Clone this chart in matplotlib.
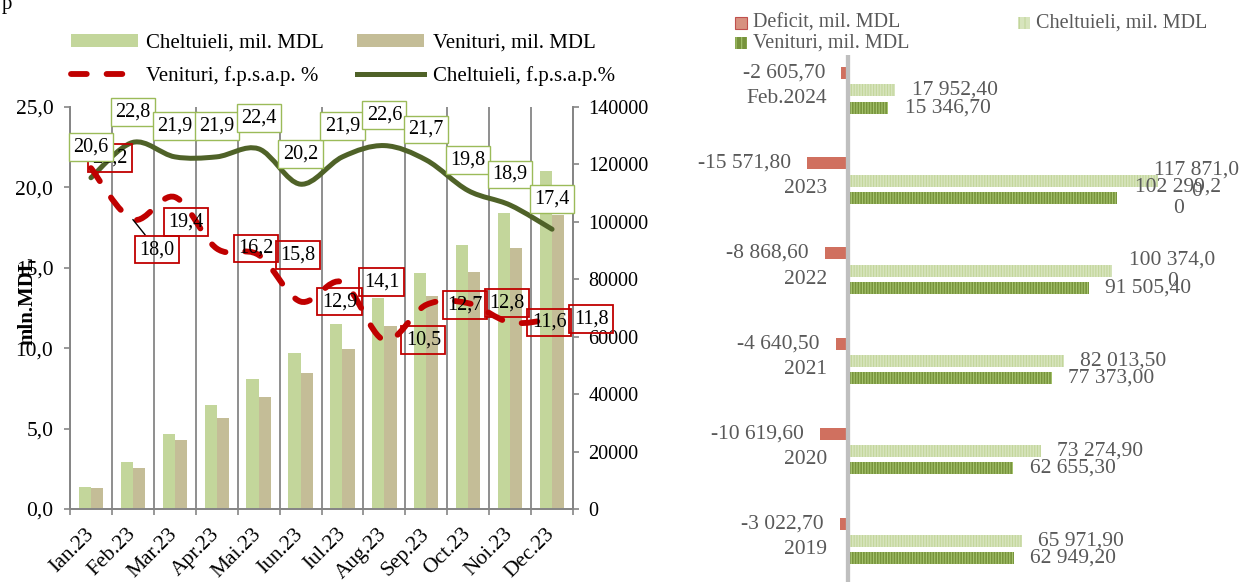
import numpy as np
import matplotlib
matplotlib.use('Agg')
import matplotlib.pyplot as plt
from matplotlib.path import Path
from matplotlib.patches import PathPatch, Rectangle, Patch
from matplotlib.lines import Line2D

# left chart: monthly 2023
months = ['Ian.23', 'Feb.23', 'Mar.23', 'Apr.23', 'Mai.23', 'Iun.23',
          'Iul.23', 'Aug.23', 'Sep.23', 'Oct.23', 'Noi.23', 'Dec.23']
chelt_mil = [7560, 16370, 26120, 36120, 45280, 54340, 64440, 73600, 82200, 91950, 103200, 117871]
venit_mil = [7420, 14180, 24030, 31590, 39010, 47260, 55730, 63850, 74080, 82650, 90800, 102299]
chelt_pct = [20.6, 22.8, 21.9, 21.9, 22.4, 20.2, 21.9, 22.6, 21.7, 19.8, 18.9, 17.4]
venit_pct = [21.2, 18.0, 19.4, 16.2, 15.8, 12.9, 14.1, 10.5, 12.7, 12.8, 11.6, 11.8]

# right chart: yearly
years = ['Feb.2024', '2023', '2022', '2021', '2020', '2019']
deficit = [-2605.70, -15571.80, -8868.60, -4640.50, -10619.60, -3022.70]
cheltuieli = [17952.40, 117871.00, 100374.00, 82013.50, 73274.90, 65971.90]
venituri = [15346.70, 102299.20, 91505.40, 77373.00, 62655.30, 62949.20]

W, H = 1243, 582
GRAY = '#868686'
TXT2 = '#595959'
plt.rcParams['font.family'] = ['Liberation Serif', 'DejaVu Serif']
plt.rcParams['hatch.linewidth'] = 0.8


def fig_box(l, t, r, b):
    return [l / W, 1 - b / H, (r - l) / W, (b - t) / H]


def smooth_path(xs, ys):
    # cubic bezier through the points, like Excel's smoothed line
    pts = np.column_stack([xs, ys]).astype(float)
    n = len(pts)
    verts = [pts[0]]
    codes = [Path.MOVETO]
    for i in range(n - 1):
        p0 = pts[i - 1] if i > 0 else pts[i]
        p1, p2 = pts[i], pts[i + 1]
        p3 = pts[i + 2] if i + 2 < n else pts[i + 1]
        verts += [p1 + (p2 - p0) / 6, p2 - (p3 - p1) / 6, p2]
        codes += [Path.CURVE4] * 3
    return Path(verts, codes)


def fmt1(v):
    return f'{v:.1f}'.replace('.', ',')


def fmt2(v):
    s = f'{abs(v):,.2f}'.replace(',', ' ').replace('.', ',')
    s = ('-' if v < 0 else '') + s
    if v >= 100000:
        s = s[:-1] + '\n' + s[-1]
    return s


fig = plt.figure(figsize=(W / 100, H / 100), dpi=100)

# ---------------- left chart ----------------
ax = fig.add_axes(fig_box(70, 107, 573, 509))
ax2 = ax.twinx()
ax.set_zorder(ax2.get_zorder() + 1)
ax.patch.set_visible(False)

x = np.arange(len(months)) + 0.5
bw = 0.29
ax2.bar(x - bw / 2, chelt_mil, bw, color='#c3d69b', lw=0)
ax2.bar(x + bw / 2, venit_mil, bw, color='#c4bd97', lw=0)
ax2.set_ylim(0, 140000)
ax2.set_yticks(range(0, 140001, 20000))
ax2.set_yticklabels([str(v) for v in range(0, 140001, 20000)])
ax2.tick_params(axis='y', length=4, width=1.2, color=GRAY, pad=7, labelsize=14.5)

red_style = (0, (2.7, 3.4))
ax.add_patch(PathPatch(smooth_path(x, chelt_pct), fc='none', ec='#4f6228',
                       lw=3.6, capstyle='round', zorder=3))
ax.add_patch(PathPatch(smooth_path(x, venit_pct), fc='none', ec='#c00000',
                       lw=4.2, linestyle=red_style, capstyle='round', zorder=3))

for xi, v in zip(x, chelt_pct):
    ax.annotate(fmt1(v), (xi, v), xytext=(0, 22), textcoords='offset points',
                ha='center', va='center', fontsize=14.5, zorder=6,
                bbox=dict(boxstyle='square,pad=0.22', fc='white', ec='#9bbb59', lw=1))

red_off = [(19, -10), (24, 30), (11, 25)] + [(39, 0)] * 9
for i, (xi, v) in enumerate(zip(x, venit_pct)):
    dx, dy = red_off[i]
    arrow = None
    if i == 1:
        arrow = dict(arrowstyle='-', color='black', lw=1, shrinkA=0, shrinkB=0)
    ax.annotate(fmt1(v), (xi, v), xytext=(dx * 0.72, -dy * 0.72), textcoords='offset points',
                ha='center', va='center', fontsize=14.5, zorder=5, arrowprops=arrow,
                bbox=dict(boxstyle='square,pad=0.22', fc='none', ec='#c00000', lw=1.3))

ax.set_xlim(0, 12)
ax.set_ylim(0, 25)
ax.set_xticks(np.arange(13))
ax.set_xticklabels([])
ax.set_xticks(x, minor=True)
ax.set_xticklabels(months, minor=True, rotation=45, ha='right', va='center',
                   rotation_mode='anchor', fontsize=15.5)
ax.tick_params(axis='x', which='minor', length=0, pad=16)
ax.tick_params(axis='x', which='major', length=4, width=1.2, color=GRAY)
ax.grid(axis='x', which='major', color=GRAY, lw=1.3)
ax.set_yticks(np.arange(0, 26, 5))
ax.set_yticklabels([fmt1(v) for v in np.arange(0, 26, 5)])
ax.tick_params(axis='y', length=4, width=1.2, color=GRAY, pad=8, labelsize=15.5)
for a in (ax, ax2):
    a.spines['top'].set_visible(False)
    for s in ('left', 'right', 'bottom'):
        a.spines[s].set_color(GRAY)
        a.spines[s].set_linewidth(1.3)

fig.text(27 / W, 1 - 301 / H, 'mln.MDL', rotation=90, fontweight='bold',
         fontsize=15, ha='center', va='center')

handles = [Patch(fc='#c3d69b', lw=0),
           Line2D([], [], color='#c00000', lw=4.2, linestyle=red_style,
                  dash_capstyle='round'),
           Patch(fc='#c4bd97', lw=0),
           Line2D([], [], color='#4f6228', lw=3.6)]
labels = ['Cheltuieli, mil. MDL', 'Venituri, f.p.s.a.p. %',
          'Venituri, mil. MDL', 'Cheltuieli, f.p.s.a.p.%']
fig.legend(handles, labels, ncol=2, loc='upper left', bbox_to_anchor=(71 / W, 1 - 34 / H),
           frameon=False, fontsize=15, handlelength=3.2, handleheight=0.55,
           handletextpad=0.42, columnspacing=1.6, borderpad=0, borderaxespad=0,
           labelspacing=0.62)

fig.text(2 / W, 1 - 9 / H, 'p', fontsize=15, ha='left', va='baseline')

# ---------------- right chart ----------------
scale = 380.0
zero_px = 848
axr = fig.add_axes(fig_box(700, 55, 1243, 582))
axr.set_xlim((700 - zero_px) * scale, (1243 - zero_px) * scale)
axr.set_ylim(5.455, -0.394)
axr.axis('off')

g = np.arange(len(years))
off = 17.25 / 90.1
bh = 12 / 90.1
axr.barh(g - off, deficit, bh, color='#d0705f', lw=0)
axr.barh(g, cheltuieli, bh, color='#d7e4bd', edgecolor='#c3d69b', hatch='||||||', lw=0)
axr.barh(g + off, venituri, bh, color='#77933c', edgecolor='#a6c46e', hatch='||||||', lw=0)
axr.axvline(0, color='#bfbfbf', lw=3.1, zorder=4)

wrap_off = {(1, 'c'): 38, (1, 'v'): 61, (2, 'c'): 60}
for i in g:
    axr.annotate(years[i], (0, i), xytext=(-15, -6), textcoords='offset points',
                 ha='right', va='center', color=TXT2, fontsize=15.5)
    axr.annotate(fmt2(deficit[i]), (deficit[i], i - off), xytext=(-11.5, 0),
                 textcoords='offset points', ha='right', va='center',
                 color=TXT2, fontsize=15.5)
    for key, vals, yy in (('c', cheltuieli, i), ('v', venituri, i + off)):
        v = vals[i]
        if (i, key) in wrap_off:
            axr.annotate(fmt2(v), (v, yy), xytext=(wrap_off[(i, key)] * 0.72, 0),
                         textcoords='offset points', ha='center', va='center',
                         multialignment='center', color=TXT2, fontsize=15.5)
        else:
            axr.annotate(fmt2(v), (v, yy), xytext=(12, 0), textcoords='offset points',
                         ha='left', va='center', color=TXT2, fontsize=15.5)


def legend_item(px, py, text, **kw):
    fig.add_artist(Rectangle((px / W, 1 - (py + 6) / H), 12 / W, 12 / H,
                             transform=fig.transFigure, **kw))
    fig.text((px + 18) / W, 1 - py / H, text, ha='left', va='center',
             fontsize=14.5, color=TXT2)


legend_item(735, 22.7, 'Deficit, mil. MDL', fc='#d79180', ec='#c0504d', lw=0.8)
legend_item(1018, 22.7, 'Cheltuieli, mil. MDL', fc='#d7e4bd', ec='#c3d69b',
            hatch='|||', lw=0)
legend_item(735, 43.3, 'Venituri, mil. MDL', fc='#77933c', ec='#a6c46e',
            hatch='|||', lw=0)

fig.savefig('out.png', dpi=100)
